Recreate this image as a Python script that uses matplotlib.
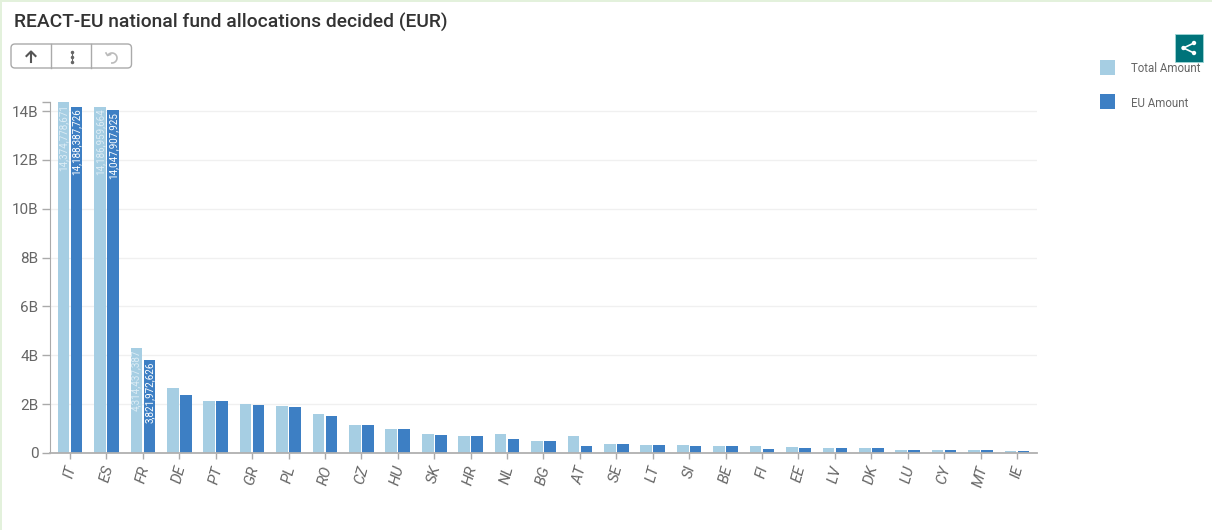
import matplotlib
matplotlib.use('Agg')
import matplotlib.pyplot as plt
from matplotlib.patches import FancyBboxPatch, Rectangle, Circle
from matplotlib.transforms import ScaledTranslation
import numpy as np

plt.rcParams['font.family'] = ['Roboto', 'DejaVu Sans']

countries = ['IT', 'ES', 'FR', 'DE', 'PT', 'GR', 'PL', 'RO', 'CZ', 'HU', 'SK', 'HR', 'NL', 'BG',
             'AT', 'SE', 'LT', 'SI', 'BE', 'FI', 'EE', 'LV', 'DK', 'LU', 'CY', 'MT', 'IE']
total_amount = [14374778671, 14186959664, 4314437387, 2680000000, 2140000000, 1990000000, 1940000000,
                1590000000, 1160000000, 1000000000, 760000000, 690000000, 760000000, 500000000,
                680000000, 380000000, 340000000, 330000000, 300000000, 300000000, 250000000,
                220000000, 210000000, 130000000, 130000000, 130000000, 90000000]
eu_amount = [14188387726, 14047907925, 3821972626, 2370000000, 2140000000, 1980000000, 1890000000,
             1510000000, 1160000000, 1000000000, 720000000, 680000000, 560000000, 480000000,
             290000000, 370000000, 330000000, 290000000, 290000000, 170000000, 210000000,
             210000000, 210000000, 130000000, 130000000, 130000000, 90000000]
y_ticks = [0, 2e9, 4e9, 6e9, 8e9, 10e9, 12e9, 14e9]
y_labels = ['0', '2B', '4B', '6B', '8B', '10B', '12B', '14B']

light = '#a6cee3'
dark = '#3d7fc4'
grey = '#666666'

W, H = 1212, 530
fig = plt.figure(figsize=(W / 100, H / 100), dpi=100, facecolor='white')

# main chart, placed in pixels
left, right, top, bottom = 49.5, 1037, 102, 453
ax = fig.add_axes([left / W, 1 - bottom / H, (right - left) / W, (bottom - top) / H])

x = np.arange(len(countries))
w = 0.32
off = 0.178
ax.bar(x - off, total_amount, w, color=light)
ax.bar(x + off, eu_amount, w, color=dark)

ax.set_xlim(-0.563, 26.55)
ax.set_ylim(0, max(total_amount))
ax.set_yticks(y_ticks)
ax.set_yticklabels(y_labels, fontsize=11, color=grey)
ax.set_yticks([max(total_amount)], minor=True)
ax.set_xticks(x)
ax.set_xticklabels(countries, rotation=75, fontsize=11, color=grey, style='italic')
# nudge the rotated labels so they sit under their ticks
shift = ScaledTranslation(2 / 100, 0, fig.dpi_scale_trans)
for lab in ax.get_xticklabels():
    lab.set_transform(lab.get_transform() + shift)
ax.yaxis.grid(True, color='#f0f0f0', lw=1)
ax.set_axisbelow(True)
ax.tick_params(axis='y', which='both', length=6, color='#aaaaaa', width=1, pad=2)
ax.tick_params(axis='x', length=4, color='#aaaaaa', width=1, pad=4)
for s in ['top', 'right']:
    ax.spines[s].set_visible(False)
ax.spines['left'].set_color('#aaaaaa')
ax.spines['bottom'].set_color('#b0b0b0')
ax.spines['bottom'].set_linewidth(1.3)

# value labels only on the big bars
for i in range(3):
    ax.annotate(f'{total_amount[i]:,}', (x[i] - off, total_amount[i]), xytext=(0, -1.5), textcoords='offset points',
                rotation=90, ha='center', va='top', fontsize=7.1, color='#dcecf5')
    ax.annotate(f'{eu_amount[i]:,}', (x[i] + off, eu_amount[i]), xytext=(0, -1.5), textcoords='offset points',
                rotation=90, ha='center', va='top', fontsize=7.1, color='white')

# overlay in pixel coordinates for the page furniture
ov = fig.add_axes([0, 0, 1, 1], facecolor='none')
ov.set_xlim(0, W)
ov.set_ylim(H, 0)
ov.axis('off')

ov.add_patch(Rectangle((0, 0), 2, H, color='#e3f1dc', lw=0))
ov.add_patch(Rectangle((0, 0), W, 1.5, color='#e3f1dc', lw=0))

ov.text(14, 22, 'REACT-EU national fund allocations decided (EUR)', fontsize=13.9, fontweight='medium',
        color='#333333', va='center', ha='left')

# toolbar
ov.add_patch(FancyBboxPatch((11, 44), 120.5, 24, boxstyle='round,pad=0,rounding_size=4', fc='white', ec='#aaaaaa', lw=1))
ov.plot([51, 51], [44, 68], color='#aaaaaa', lw=1)
ov.plot([91, 91], [44, 68], color='#aaaaaa', lw=1)
ov.plot([31, 31], [51.5, 62], color='#555555', lw=1.5)
ov.plot([26.5, 31, 35.5], [56, 51.5, 56], color='#555555', lw=1.5)
ov.plot([71.5, 71.5], [52, 62], color='#666666', lw=0.8)
ov.plot([71.5] * 3, [52, 57, 62], 'o', ms=1.5, color='#666666')
th = np.linspace(-2.4, 1.6, 30)
ov.plot(112 + 5 * np.cos(th), 58 + 5 * np.sin(th), color='#bbbbbb', lw=1.2)
ov.plot([106, 107.5, 110.5], [53, 55.5, 54.5], color='#bbbbbb', lw=1.2)

# share button
ov.add_patch(Rectangle((1175, 33.5), 28, 28, fc='#00737a', ec='#9fd6d6', lw=0.6))
pts = [(1183.5, 48), (1194, 43), (1194, 53)]
ov.plot([pts[1][0], pts[0][0], pts[2][0]], [pts[1][1], pts[0][1], pts[2][1]], color='white', lw=1.2)
for p in pts:
    ov.add_patch(Circle(p, 2.2, color='white', lw=0))

# legend
ov.add_patch(Rectangle((1100, 59.5), 15, 15, color=light, lw=0))
ov.add_patch(Rectangle((1100, 94), 15, 15, color=dark, lw=0))
ov.text(1131, 69, 'Total Amount', fontsize=8.3, color=grey, va='center', ha='left')
ov.text(1131, 103.5, 'EU Amount', fontsize=8.3, color=grey, va='center', ha='left')

fig.savefig('out.png', dpi=100)
